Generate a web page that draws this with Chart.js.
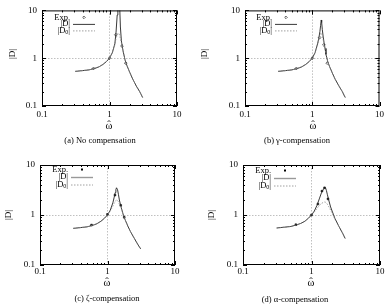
<!DOCTYPE html>
<html>
<head>
<meta charset="utf-8">
<script src="https://cdn.jsdelivr.net/npm/chart.js@4"></script>
<style>
  body { margin: 0; background: #fff; }
  #wrap { position: relative; width: 387px; height: 308px; font-family: "Liberation Serif", serif; color: #000; }
  canvas { position: absolute; }
  .lbl { position: absolute; font-size: 9px; line-height: 12px; white-space: nowrap; transform: translate(-50%, -50%); }
  .ylbl { transform: translate(-50%, -50%) rotate(-90deg); }
  .om { font-size: 10.5px; }
</style>
</head>
<body>
<div id="wrap">
  <canvas id="pa" width="193" height="122" style="left:0;top:0"></canvas>
  <canvas id="pb" width="194" height="122" style="left:193px;top:0"></canvas>
  <canvas id="pc" width="193" height="126" style="left:0;top:153px"></canvas>
  <canvas id="pd" width="194" height="126" style="left:193px;top:153px"></canvas>

  <div class="lbl ylbl" style="left:12px;top:54px">|D|</div>
  <div class="lbl ylbl" style="left:204px;top:54px">|D|</div>
  <div class="lbl ylbl" style="left:8px;top:215px">|D|</div>
  <div class="lbl ylbl" style="left:211px;top:215px">|D|</div>

  <div class="lbl om" style="left:109px;top:126px">ω</div><div class="lbl om" style="left:109px;top:125px">ˆ</div>
  <div class="lbl om" style="left:313px;top:126px">ω</div><div class="lbl om" style="left:313px;top:125px">ˆ</div>
  <div class="lbl om" style="left:107px;top:283px">ω</div><div class="lbl om" style="left:107px;top:282px">ˆ</div>
  <div class="lbl om" style="left:311px;top:283px">ω</div><div class="lbl om" style="left:311px;top:282px">ˆ</div>

  <div class="lbl" style="left:100px;top:140px;font-size:8.5px">(a) No compensation</div>
  <div class="lbl" style="left:297px;top:140px;font-size:8.5px">(b) γ-compensation</div>
  <div class="lbl" style="left:107px;top:298px;font-size:8.5px">(c) ζ-compensation</div>
  <div class="lbl" style="left:295px;top:299px;font-size:8.5px">(d) α-compensation</div>
</div>
<script>
// frequency grid (panels a, b, c)
const omegaABC = [0.31, 0.4, 0.5, 0.6, 0.7, 0.8, 0.9, 1.0, 1.1, 1.2, 1.25, 1.3, 1.33, 1.36, 1.38, 1.41, 1.45, 1.5, 1.55, 1.6, 1.7, 1.8, 2.0, 2.2, 2.5, 2.8, 3.1];
// frequency grid (panel d)
const omegaD = [0.31, 0.4, 0.5, 0.6, 0.7, 0.8, 0.9, 1.0, 1.1, 1.2, 1.3, 1.4, 1.5, 1.55, 1.6, 1.65, 1.7, 1.8, 1.9, 2.0, 2.2, 2.5, 2.8, 3.1];

// (a) no compensation
const dA  = [0.53, 0.55, 0.57, 0.61, 0.66, 0.74, 0.85, 1.0, 1.3, 2.0, 3.5, 8.0, 14, 20, 20, 14, 4.5, 2.3, 1.7, 1.35, 0.92, 0.72, 0.5, 0.37, 0.26, 0.2, 0.15];
const d0A = [0.53, 0.55, 0.57, 0.61, 0.66, 0.74, 0.85, 1.0, 1.3, 1.9, 2.6, 3.1, 3.3, 3.35, 3.3, 3.0, 2.6, 2.1, 1.7, 1.35, 0.92, 0.72, 0.5, 0.37, 0.26, 0.2, 0.15];
const expAx = [0.58, 1.0, 1.24, 1.53, 1.74];
const expAy = [0.61, 1.0, 3.1, 1.8, 0.79];

// (b) gamma-compensation
const dB  = [0.53, 0.55, 0.57, 0.61, 0.66, 0.74, 0.85, 1.0, 1.3, 2.0, 2.6, 3.6, 4.8, 6.3, 5.6, 4.0, 2.9, 2.1, 1.6, 1.2, 0.85, 0.68, 0.48, 0.36, 0.26, 0.2, 0.15];
const d0B = [0.53, 0.55, 0.57, 0.61, 0.66, 0.74, 0.85, 1.0, 1.3, 1.9, 2.4, 3.0, 3.3, 3.4, 3.3, 3.0, 2.5, 1.95, 1.55, 1.2, 0.85, 0.68, 0.48, 0.36, 0.26, 0.2, 0.15];
const expBx = [0.58, 1.0, 1.29, 1.49, 1.67];
const expBy = [0.61, 1.0, 2.7, 1.9, 0.79];

// (c) zeta-compensation
const dC  = [0.54, 0.56, 0.58, 0.62, 0.67, 0.75, 0.86, 1.0, 1.25, 1.75, 2.2, 2.8, 3.2, 3.5, 3.5, 3.2, 2.6, 2.0, 1.65, 1.4, 1.05, 0.84, 0.6, 0.46, 0.34, 0.26, 0.21];
const d0C = [0.54, 0.56, 0.58, 0.62, 0.67, 0.75, 0.86, 1.0, 1.2, 1.5, 1.7, 1.85, 1.95, 2.0, 2.0, 1.95, 1.85, 1.65, 1.5, 1.35, 1.03, 0.84, 0.6, 0.46, 0.34, 0.26, 0.21];
const expCx = [0.58, 1.0, 1.29, 1.57, 1.77];
const expCy = [0.63, 1.03, 2.5, 1.56, 0.9];

// (d) alpha-compensation
const dD  = [0.55, 0.57, 0.59, 0.63, 0.68, 0.75, 0.86, 1.0, 1.2, 1.55, 2.1, 2.8, 3.3, 3.5, 3.5, 3.1, 2.6, 1.9, 1.45, 1.2, 0.85, 0.6, 0.45, 0.34];
const d0D = [0.55, 0.57, 0.59, 0.63, 0.68, 0.75, 0.86, 1.0, 1.15, 1.35, 1.55, 1.7, 1.8, 1.82, 1.8, 1.75, 1.65, 1.45, 1.25, 1.1, 0.82, 0.6, 0.45, 0.34];
const expDx = [0.59, 1.0, 1.24, 1.42, 1.55, 1.74];
const expDy = [0.64, 1.0, 1.66, 3.0, 3.5, 2.1];

const tickVals = [0.1, 1, 10];
const FONT = '"Liberation Serif", serif';

const pts = (xs, ys) => xs.map((x, i) => ({ x: x, y: ys[i] }));

// frame, inward log ticks on all four sides, and the key
const framePlugin = {
  id: 'frame',
  afterDatasetsDraw(chart, args, opts) {
    const { ctx, chartArea: a, scales: { x, y } } = chart;
    ctx.save();
    ctx.strokeStyle = '#000';
    ctx.lineWidth = 1;
    ctx.strokeRect(a.left + 0.5, a.top + 0.5, a.width - 1, a.height - 1);
    ctx.beginPath();
    for (const dec of [0.1, 1]) {
      for (let k = 1; k <= 10; k++) {
        const v = dec * k;
        const len = (k === 1 || k === 10) ? 4 : 2;
        const px = Math.round(x.getPixelForValue(v)) + 0.5;
        ctx.moveTo(px, a.bottom); ctx.lineTo(px, a.bottom - len);
        ctx.moveTo(px, a.top); ctx.lineTo(px, a.top + len);
        const py = Math.round(y.getPixelForValue(v)) + 0.5;
        ctx.moveTo(a.left, py); ctx.lineTo(a.left + len, py);
        ctx.moveTo(a.right, py); ctx.lineTo(a.right - len, py);
      }
    }
    ctx.stroke();

    // key
    const tx = a.left + opts.kx, sx = tx + 3, ex = tx + 25;
    const rows = opts.rows;
    ctx.fillStyle = '#000';
    ctx.font = '8.5px ' + FONT;
    ctx.textAlign = 'right';
    ctx.textBaseline = 'middle';
    ctx.fillText('Exp.', tx, a.top + rows[0]);
    ctx.fillText('|D|', tx, a.top + rows[1]);
    // |D0| with subscript
    const w1 = ctx.measureText('|').width;
    ctx.fillText('|', tx, a.top + rows[2]);
    ctx.font = '6px ' + FONT;
    const w0 = ctx.measureText('0').width;
    ctx.fillText('0', tx - w1, a.top + rows[2] + 2);
    ctx.font = '8.5px ' + FONT;
    ctx.fillText('|D', tx - w1 - w0, a.top + rows[2]);

    const m = (sx + ex) / 2, my = a.top + rows[0];
    if (opts.square) {
      ctx.fillRect(m - 1, my - 1, 2, 2);
    } else {
      ctx.lineWidth = 0.6;
      ctx.beginPath();
      ctx.moveTo(m, my - 1.3); ctx.lineTo(m + 1.3, my); ctx.lineTo(m, my + 1.3); ctx.lineTo(m - 1.3, my); ctx.closePath();
      ctx.stroke();
    }
    ctx.strokeStyle = opts.square ? '#999' : '#222';
    ctx.lineWidth = opts.square ? 1.4 : 0.9;
    ctx.beginPath(); ctx.moveTo(sx, a.top + rows[1] + 0.5); ctx.lineTo(ex, a.top + rows[1] + 0.5); ctx.stroke();
    ctx.strokeStyle = '#888';
    ctx.lineWidth = 0.8;
    ctx.setLineDash([1.5, 1.5]);
    ctx.beginPath(); ctx.moveTo(sx, a.top + rows[2] + 0.5); ctx.lineTo(ex, a.top + rows[2] + 0.5); ctx.stroke();
    ctx.restore();
  }
};

function axis(afterFit, pad) {
  return {
    type: 'logarithmic',
    min: 0.1,
    max: 10,
    afterBuildTicks: s => { s.ticks = tickVals.map(v => ({ value: v })); },
    afterFit: afterFit,
    ticks: {
      padding: pad,
      color: '#000',
      font: { family: FONT, size: 9 },
      callback: v => String(v),
      autoSkip: false,
      maxRotation: 0
    },
    grid: {
      drawTicks: false,
      lineWidth: 0.8,
      color: c => (c.tick && c.tick.value === 1) ? '#b0b0b0' : 'rgba(0,0,0,0)'
    },
    border: { display: false, dash: [1.5, 1.5] }
  };
}

function panel(id, xs, d, d0, ex, ey, geo) {
  new Chart(document.getElementById(id), {
    type: 'line',
    data: {
      datasets: [
        { label: '|D0|', data: pts(xs, d0), borderColor: '#888', borderWidth: 0.8, borderDash: [1.5, 1.5], pointRadius: 0, tension: 0 },
        { label: '|D|', data: pts(xs, d), borderColor: '#222', borderWidth: 0.9, pointRadius: 0, tension: 0 },
        { label: 'Exp.', data: pts(ex, ey), showLine: false, pointStyle: geo.square ? 'rect' : 'rectRot',
          pointRadius: geo.square ? 1.2 : 1.4, borderWidth: 0.6, borderColor: '#111',
          backgroundColor: geo.square ? '#111' : 'rgba(255,255,255,0)' }
      ]
    },
    options: {
      responsive: false,
      animation: false,
      events: [],
      layout: { padding: { top: geo.top, right: geo.right, left: 0, bottom: 0 } },
      plugins: {
        legend: { display: false },
        tooltip: { enabled: false },
        frame: { kx: geo.kx, rows: geo.rows, square: geo.square }
      },
      scales: {
        x: axis(s => { s.height = geo.xh; }, geo.xpad),
        y: axis(s => { s.width = geo.yw; }, 5)
      }
    },
    plugins: [framePlugin]
  });
}

panel('pa', omegaABC, dA, d0A, expAx, expAy, { top: 6, right: 16, yw: 42, xh: 16, xpad: 3, kx: 28, rows: [7, 13.5, 20], square: false });
panel('pb', omegaABC, dB, d0B, expBx, expBy, { top: 6, right: 5, yw: 52, xh: 16, xpad: 3, kx: 27, rows: [7, 13.5, 20], square: false });
panel('pc', omegaABC, dC, d0C, expCx, expCy, { top: 12, right: 18, yw: 40, xh: 14, xpad: 1, kx: 28, rows: [4.5, 12, 19.5], square: true });
panel('pd', omegaD, dD, d0D, expDx, expDy, { top: 12, right: 7, yw: 50, xh: 14, xpad: 1, kx: 28, rows: [5.5, 13, 20.5], square: true });
</script>
</body>
</html>
